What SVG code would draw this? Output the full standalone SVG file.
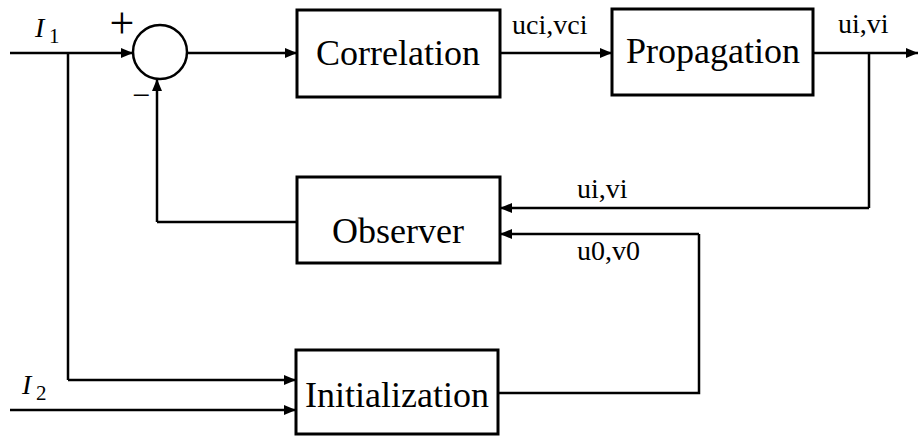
<svg xmlns="http://www.w3.org/2000/svg" width="919" height="437" viewBox="0 0 919 437">
<defs>
<marker id="arr" viewBox="0 0 12 10" refX="12" refY="5" markerWidth="12" markerHeight="10" markerUnits="userSpaceOnUse" orient="auto">
<path d="M0,0 L12,5 L0,10 Z" fill="#000"/>
</marker>
</defs>
<style>
.box{fill:#fff;stroke:#000;stroke-width:3}
text{font-family:'Liberation Serif','DejaVu Serif','Times New Roman',Times,serif;fill:#000}
.big{font-size:36px;text-anchor:middle}
.lbl{font-size:28px}
.ln{fill:none;stroke:#000;stroke-width:2.5}
.ar{fill:none;stroke:#000;stroke-width:2.5;marker-end:url(#arr)}
</style>
<rect width="919" height="437" fill="#fff"/>
<g id="connectors">
<path class="ar" d="M10,53 L133,53"/>
<path class="ln" d="M68,53 L68,380"/>
<path class="ar" d="M68,380 L296,380"/>
<path class="ar" d="M10,410 L296,410"/>
<path class="ar" d="M187,53 L297,53"/>
<path class="ar" d="M500,53 L612,53"/>
<path class="ar" d="M813,53 L918,53"/>
<path class="ln" d="M869,53 L869,208"/>
<path class="ar" d="M869,208 L500,208"/>
<path class="ln" d="M498,393 L699,393 L699,234"/>
<path class="ar" d="M699,234 L500,234"/>
<path class="ln" d="M297,222 L157,222"/>
<path class="ar" d="M157,222 L157,79"/>
<text class="lbl" x="512" y="34">uci,vci</text>
<text class="lbl" x="838" y="33">ui,vi</text>
<text class="lbl" x="577" y="198">ui,vi</text>
<text class="lbl" x="577" y="260">u0,v0</text>
<text class="lbl" x="35" y="37" font-style="italic">I</text>
<text x="49" y="43" font-size="21">1</text>
<text class="lbl" x="22" y="394" font-style="italic">I</text>
<text x="36" y="400" font-size="21">2</text>
<text x="122" y="38" font-size="44" text-anchor="middle">+</text>
<text x="141" y="106" font-size="32" text-anchor="middle">−</text>
</g>
<g id="sum">
<circle cx="160" cy="52" r="27" fill="#fff" stroke="#000" stroke-width="2.5"/>
</g>
<g id="correlation">
<rect class="box" x="297" y="10" width="203" height="87"/>
<text class="big" x="398" y="65">Correlation</text>
</g>
<g id="propagation">
<rect class="box" x="612" y="9" width="201" height="86"/>
<text class="big" x="713" y="63">Propagation</text>
</g>
<g id="observer">
<rect class="box" x="297" y="177" width="203" height="86"/>
<text class="big" x="398" y="243">Observer</text>
</g>
<g id="initialization">
<rect class="box" x="296" y="350" width="202" height="84"/>
<text class="big" x="397" y="407">Initialization</text>
</g>
</svg>
